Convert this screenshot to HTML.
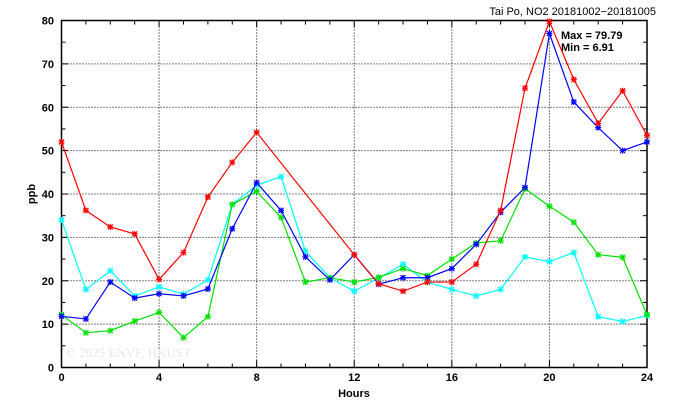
<!DOCTYPE html>
<html><head><meta charset="utf-8"><style>
html,body{margin:0;padding:0;background:#fff;width:674px;height:409px;overflow:hidden}
svg text{font-family:"Liberation Sans",sans-serif;font-weight:bold;font-size:11px;fill:#000}
</style></head><body>
<svg id="s" width="674" height="409" xmlns="http://www.w3.org/2000/svg"></svg>
<script>
const X0=61.5,X1=647,Y0=367.5,Y1=20.5;
const xs=h=>X0+(X1-X0)*h/24, ys=v=>Y0-(Y0-Y1)*v/80;
let o='';
// grid
for(let h=4;h<24;h+=4)o+=`<line x1="${xs(h)}" y1="${Y1}" x2="${xs(h)}" y2="${Y0}" stroke="#000" stroke-width="1" stroke-dasharray="1,2"/>`;
for(let v=10;v<80;v+=10)o+=`<line x1="${X0}" y1="${ys(v)}" x2="${X1}" y2="${ys(v)}" stroke="#000" stroke-width="1" stroke-dasharray="1,2"/>`;
// ticks
for(let h=0;h<=24;h++){const l=h%4==0?7:4;o+=`<line x1="${xs(h)}" y1="${Y0}" x2="${xs(h)}" y2="${Y0-l}" stroke="#000"/><line x1="${xs(h)}" y1="${Y1}" x2="${xs(h)}" y2="${Y1+l}" stroke="#000"/>`;}
for(let v=0;v<=80;v+=5){const l=v%10==0?7:4;o+=`<line x1="${X0}" y1="${ys(v)}" x2="${X0+l}" y2="${ys(v)}" stroke="#000"/><line x1="${X1}" y1="${ys(v)}" x2="${X1-l}" y2="${ys(v)}" stroke="#000"/>`;}
o+=`<rect x="${X0}" y="${Y1}" width="${X1-X0}" height="${Y0-Y1}" fill="none" stroke="#000" stroke-width="1.5"/>`;
for(let h=0;h<=24;h+=4)o+=`<text x="${xs(h)}" y="381" text-anchor="middle">${h}</text>`;
for(let v=0;v<=80;v+=10)o+=`<text x="54" y="${ys(v)+4}" text-anchor="end">${v}</text>`;
o+=`<text x="354" y="397" text-anchor="middle">Hours</text>`;
o+=`<text transform="translate(35,194) rotate(-90)" text-anchor="middle">ppb</text>`;
o+=`<text x="656" y="15" text-anchor="end" style="font-weight:normal">Tai Po, NO2 20181002−20181005</text>`;
o+=`<text x="561" y="39">Max = 79.79</text><text x="561" y="51">Min =  6.91</text>`;
o+=`<text x="66" y="357" style="font-family:'Liberation Serif',serif;font-weight:normal;font-size:13px;fill:#e6e6e6">© 2025  ENVF, HKUST</text>`;
const S={
c:['#00ffff',[34,18,22.3,16.5,18.6,16.9,20.2,37.6,42,44,26.8,20.7,17.6,20.6,23.8,19.6,18,16.5,18,25.5,24.4,26.5,11.7,10.6,12]],
g:['#00e000',[12.2,8,8.5,10.7,12.7,6.9,11.7,37.6,40.6,34.6,19.7,20.7,19.7,20.8,22.8,21.2,25,28.7,29.2,41.2,37.2,33.5,26,25.4,12.2]],
b:['#0000ff',[11.8,11.2,19.7,16,17,16.5,18.1,32,42.6,36.2,25.5,20.2,26,19.2,20.7,20.7,22.8,28.4,35.8,41.5,77,61.2,55.3,50,52]],
r:['#ff0000',[52,36.2,32.4,30.8,20.3,26.5,39.3,47.3,54.2,null,null,null,26,19.3,17.6,19.7,19.7,23.8,36.2,64.4,79.8,66.4,56.3,63.8,53.5]]};
for(const k of ['c','g','b','r']){const [col,d]=S[k];let p=[];d.forEach((v,i)=>{if(v!==null)p.push([xs(i),ys(v)])});
o+=`<polyline fill="none" stroke="${col}" stroke-width="1.2" points="${p.map(q=>q.join(',')).join(' ')}"/>`;
p.forEach(([x,y])=>{o+=`<path d="M${x-3} ${y}H${x+3}M${x} ${y-3}V${y+3}M${x-2.5} ${y-2.5}L${x+2.5} ${y+2.5}M${x-2.5} ${y+2.5}L${x+2.5} ${y-2.5}" stroke="${col}" stroke-width="1.2"/>`;});}
document.getElementById('s').innerHTML=o;
</script>
</body></html>
